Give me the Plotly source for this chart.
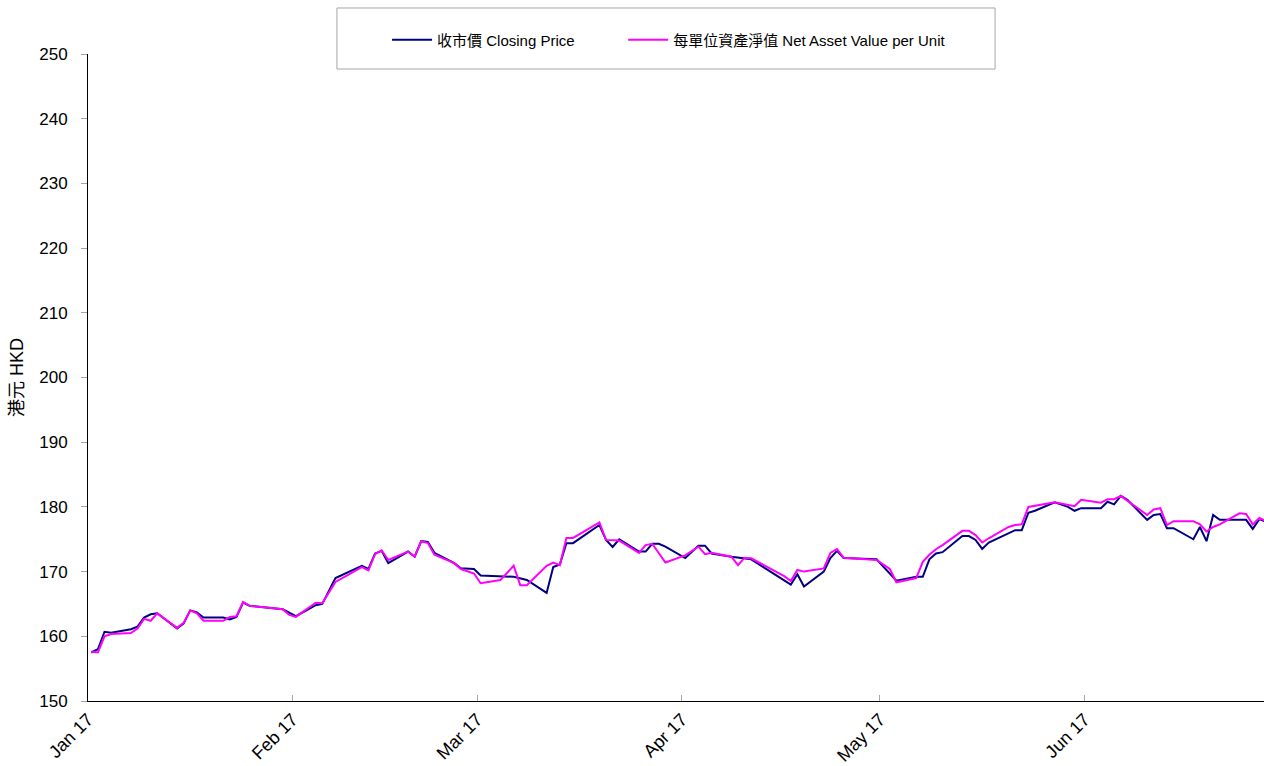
import pandas as pd
import plotly.graph_objects as go

# ---- data ----
close_dates = [
    "2017-01-03", "2017-01-04", "2017-01-05", "2017-01-06", "2017-01-09", "2017-01-10",
    "2017-01-11", "2017-01-12", "2017-01-13", "2017-01-16", "2017-01-17", "2017-01-18",
    "2017-01-19", "2017-01-20", "2017-01-23", "2017-01-24", "2017-01-25", "2017-01-26",
    "2017-01-27", "2017-02-01", "2017-02-03", "2017-02-06", "2017-02-07", "2017-02-09",
    "2017-02-13", "2017-02-14", "2017-02-15", "2017-02-16", "2017-02-17", "2017-02-20",
    "2017-02-21", "2017-02-22", "2017-02-23", "2017-02-24", "2017-02-27", "2017-02-28",
    "2017-03-02", "2017-03-03", "2017-03-08", "2017-03-10", "2017-03-13", "2017-03-14",
    "2017-03-15", "2017-03-16", "2017-03-17", "2017-03-21", "2017-03-22", "2017-03-23",
    "2017-03-24", "2017-03-27", "2017-03-28", "2017-03-29", "2017-03-30", "2017-03-31",
    "2017-04-03", "2017-04-05", "2017-04-06", "2017-04-07", "2017-04-10", "2017-04-13",
    "2017-04-19", "2017-04-20", "2017-04-21", "2017-04-24", "2017-04-25", "2017-04-26",
    "2017-04-27", "2017-05-02", "2017-05-05", "2017-05-08", "2017-05-09", "2017-05-10",
    "2017-05-11", "2017-05-12", "2017-05-15", "2017-05-16", "2017-05-17", "2017-05-18",
    "2017-05-19", "2017-05-22", "2017-05-23", "2017-05-24", "2017-05-25", "2017-05-26",
    "2017-05-29", "2017-05-31", "2017-06-01", "2017-06-02", "2017-06-05", "2017-06-06",
    "2017-06-07", "2017-06-08", "2017-06-09", "2017-06-12", "2017-06-13", "2017-06-14",
    "2017-06-15", "2017-06-16", "2017-06-19", "2017-06-20", "2017-06-21", "2017-06-22",
    "2017-06-23", "2017-06-27", "2017-06-28", "2017-06-29", "2017-06-30",
]
close_values = [
    157.5, 158.0, 160.7, 160.55, 161.1, 161.5,
    162.9, 163.4, 163.55, 161.2, 162.0, 164.0,
    163.7, 162.9, 162.9, 162.6, 163.0, 165.2,
    164.7, 164.2, 163.1, 164.8, 165.0, 169.0,
    170.9, 170.4, 172.8, 173.2, 171.3, 173.1,
    172.3, 174.7, 174.6, 172.9, 171.3, 170.5,
    170.4, 169.4, 169.2, 168.7, 166.7, 170.7,
    171.1, 174.4, 174.4, 177.2, 174.9, 173.8,
    175.0, 173.1, 173.1, 174.3, 174.3, 173.85,
    172.1, 174.0, 174.0, 172.8, 172.3, 171.9,
    168.0, 169.6, 167.7, 170.0, 172.1, 173.2,
    172.1, 171.9, 168.6, 169.2, 169.2, 171.9,
    172.8, 173.0, 175.5, 175.5, 174.9, 173.5,
    174.5, 176.0, 176.4, 176.4, 179.1, 179.4,
    180.7, 180.0, 179.4, 179.8, 179.8, 180.8,
    180.4, 181.7, 181.1, 178.0, 178.75, 178.9,
    176.7, 176.7, 175.0, 176.9, 174.7, 178.75,
    178.0, 178.0, 176.6, 178.1, 177.7,
]

nav_dates = [
    "2017-01-03", "2017-01-04", "2017-01-05", "2017-01-06", "2017-01-09", "2017-01-10",
    "2017-01-11", "2017-01-12", "2017-01-13", "2017-01-16", "2017-01-17", "2017-01-18",
    "2017-01-19", "2017-01-20", "2017-01-23", "2017-01-24", "2017-01-25", "2017-01-26",
    "2017-01-27", "2017-02-01", "2017-02-02", "2017-02-03", "2017-02-06", "2017-02-07",
    "2017-02-09", "2017-02-13", "2017-02-14", "2017-02-15", "2017-02-16", "2017-02-17",
    "2017-02-20", "2017-02-21", "2017-02-22", "2017-02-23", "2017-02-24", "2017-02-27",
    "2017-02-28", "2017-03-02", "2017-03-03", "2017-03-06", "2017-03-08", "2017-03-09",
    "2017-03-10", "2017-03-13", "2017-03-14", "2017-03-15", "2017-03-16", "2017-03-17",
    "2017-03-21", "2017-03-22", "2017-03-24", "2017-03-27", "2017-03-28", "2017-03-29",
    "2017-03-31", "2017-04-03", "2017-04-05", "2017-04-06", "2017-04-07", "2017-04-10",
    "2017-04-11", "2017-04-12", "2017-04-13", "2017-04-18", "2017-04-19", "2017-04-20",
    "2017-04-21", "2017-04-24", "2017-04-25", "2017-04-26", "2017-04-27", "2017-05-02",
    "2017-05-04", "2017-05-05", "2017-05-08", "2017-05-09", "2017-05-10", "2017-05-11",
    "2017-05-12", "2017-05-15", "2017-05-16", "2017-05-17", "2017-05-18", "2017-05-19",
    "2017-05-22", "2017-05-23", "2017-05-24", "2017-05-25", "2017-05-29", "2017-06-01",
    "2017-06-02", "2017-06-05", "2017-06-06", "2017-06-07", "2017-06-08", "2017-06-12",
    "2017-06-13", "2017-06-14", "2017-06-15", "2017-06-16", "2017-06-19", "2017-06-20",
    "2017-06-21", "2017-06-22", "2017-06-23", "2017-06-26", "2017-06-27", "2017-06-28",
    "2017-06-29", "2017-06-30",
]
nav_values = [
    157.6, 157.5, 160.0, 160.35, 160.5, 161.2,
    162.7, 162.4, 163.55, 161.3, 162.1, 164.0,
    163.55, 162.4, 162.4, 163.0, 163.1, 165.3,
    164.7, 164.2, 163.3, 163.0, 165.2, 165.1,
    168.4, 170.7, 170.2, 172.7, 173.3, 171.8,
    173.1, 172.3, 174.7, 174.4, 172.6, 171.3,
    170.4, 169.7, 168.2, 168.7, 170.9, 167.9,
    167.9, 170.9, 171.4, 171.0, 175.2, 175.2,
    177.6, 174.9, 174.8, 172.9, 174.1, 174.3,
    171.4, 172.5, 173.85, 172.7, 172.9, 172.3,
    171.0, 172.15, 172.05, 169.3, 168.55, 170.25,
    170.0, 170.5, 172.9, 173.5, 172.15, 171.8,
    170.4, 168.35, 169.0, 171.5, 172.6, 173.45,
    174.1, 176.3, 176.3, 175.65, 174.5, 175.15,
    176.9, 177.2, 177.3, 180.0, 180.7, 180.1,
    181.1, 180.65, 181.2, 181.2, 181.7, 178.75,
    179.6, 179.8, 177.2, 177.8, 177.8, 177.3,
    176.2, 176.9, 177.3, 179.0, 178.9, 177.3,
    178.3, 177.8,
]

series_names = ["收市價 Closing Price", "每單位資產淨值 Net Asset Value per Unit"]
y_title = "港元 HKD"

FONT = "Liberation Sans, Arial, Noto Sans CJK TC, sans-serif"

# points are drawn in the middle of their day slot (date-axis "between tick marks")
half_day = pd.Timedelta(hours=12)
close_x = pd.to_datetime(close_dates) + half_day
nav_x = pd.to_datetime(nav_dates) + half_day

fig = go.Figure()
fig.add_trace(go.Scatter(x=close_x, y=close_values, mode="lines", name=series_names[0],
                         line=dict(color="#000080", width=2), legend="legend"))
fig.add_trace(go.Scatter(x=nav_x, y=nav_values, mode="lines", name=series_names[1],
                         line=dict(color="#FF00FF", width=2), legend="legend2"))

legend_style = dict(orientation="h", yanchor="middle", xanchor="left",
                    font=dict(family=FONT, size=15, color="#000000"),
                    bgcolor="rgba(0,0,0,0)", borderwidth=0, itemwidth=40)

fig.update_layout(
    width=1264, height=766,
    margin=dict(l=88, r=0, t=54, b=65),
    paper_bgcolor="white", plot_bgcolor="white",
    font=dict(family=FONT, color="#000000", size=16),
    showlegend=True,
    legend=dict(x=0.2543, y=1.0216, **legend_style),
    legend2=dict(x=0.4551, y=1.0216, **legend_style),
    shapes=[dict(type="rect", xref="paper", yref="paper",
                 x0=0.2117, x1=0.7713, y0=0.9768, y1=1.0711,
                 line=dict(color="#A6A6A6", width=1), fillcolor="rgba(0,0,0,0)", layer="below")],
)

fig.update_xaxes(
    type="date",
    range=["2017-01-03", "2017-06-30 05:00"],
    tick0="2017-01-03", dtick="M1", tickformat="%b %y",
    tickangle=-45, tickfont=dict(size=18),
    ticks="inside", ticklen=6, tickcolor="#A6A6A6", tickwidth=1,
    showline=True, linecolor="#000000", linewidth=1,
    showgrid=False, zeroline=False,
)
fig.update_yaxes(
    range=[150, 250], dtick=10,
    tickfont=dict(size=17),
    ticks="outside", ticklen=6, tickcolor="#A6A6A6", tickwidth=1,
    ticklabelstandoff=10,
    showline=True, linecolor="#000000", linewidth=1,
    showgrid=False, zeroline=False,
    title=dict(text=y_title, font=dict(size=18), standoff=10),
)

fig.write_html("out.html", config={"displayModeBar": False},
               post_script="document.body.style.margin='0';")
